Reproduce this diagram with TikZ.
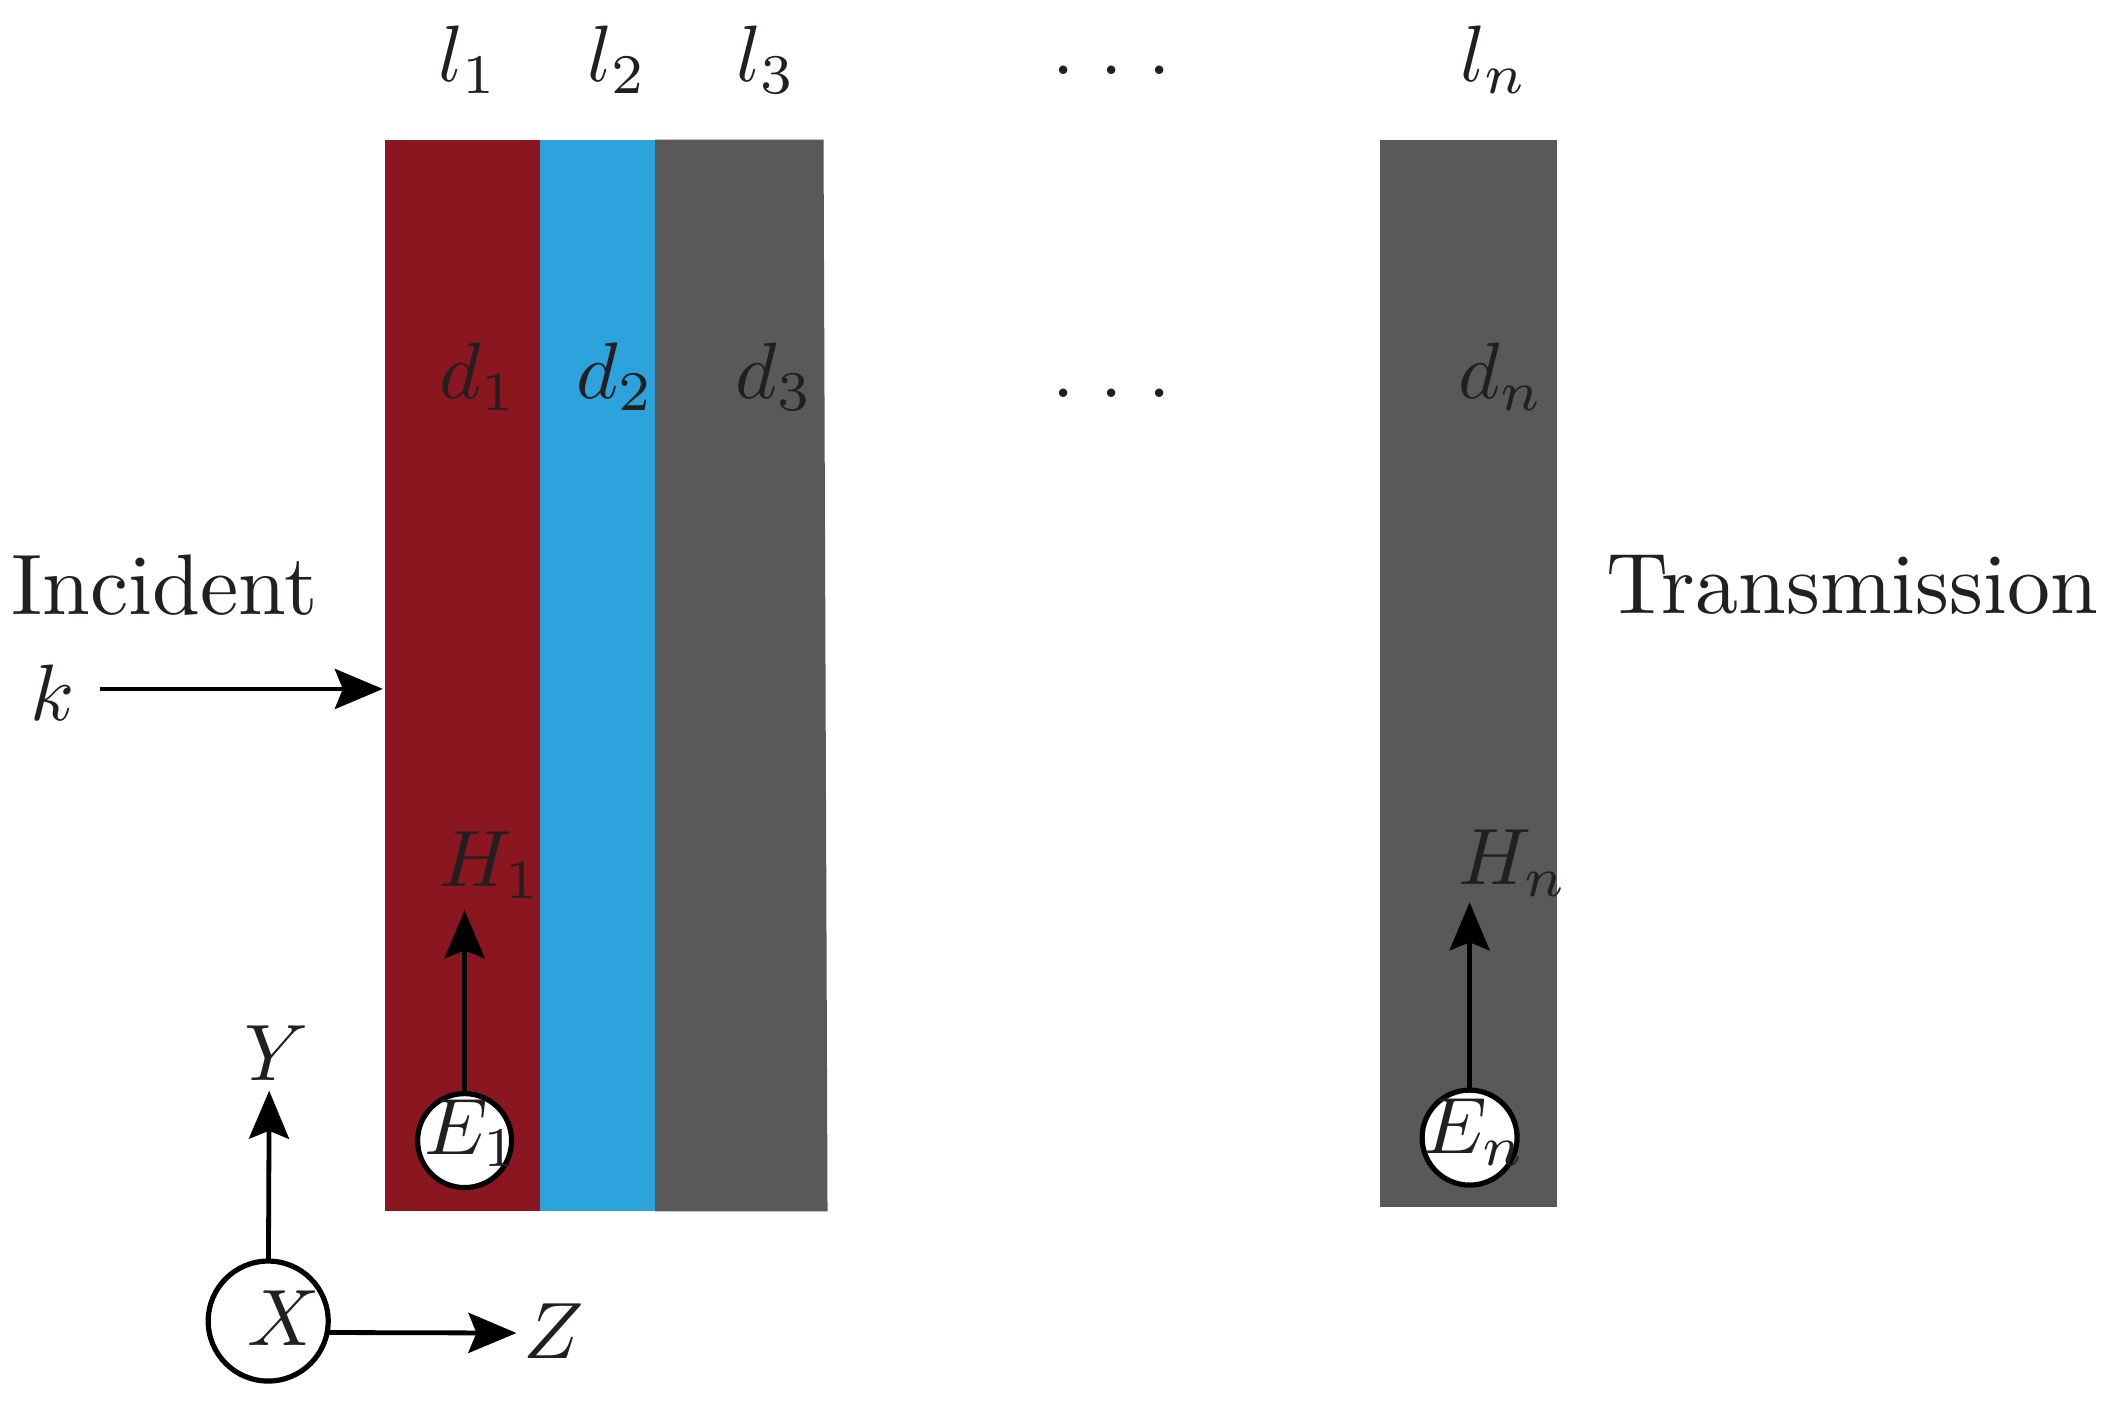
\documentclass[tikz,border=0pt]{standalone}
\usetikzlibrary{arrows.meta}
\definecolor{ink}{HTML}{231F20}
\definecolor{layred}{HTML}{8A1620}
\definecolor{layblue}{HTML}{2CA3DC}
\definecolor{laygray}{HTML}{595959}
\tikzset{
  lab/.style={text=ink,inner sep=0pt,scale=4},
  txt/.style={text=ink,inner sep=0pt,scale=4.3},
  ring/.style={circle,draw=black,fill=white,line width=2.6pt,minimum size=#1,inner sep=0pt,outer sep=0pt},
  arr/.style={-{Stealth[length=24pt,width=20pt,inset=4pt]},line width=2.4pt,black},
}
\newcommand{\spreaddots}{$.\mkern5.8mu.\mkern5.8mu.$}
\begin{document}
\begin{tikzpicture}[x=0.4985pt,y=-0.4985pt]
\useasboundingbox (0,0) rectangle (2115.3,1409.4);
\fill[layred] (386,140) rectangle (542,1215);
\fill[layblue] (542,140) rectangle (657,1215);
\fill[laygray] (657,140) -- (826,140) -- (830,1215) -- (657,1215) -- cycle;
\fill[laygray] (1384,140) rectangle (1562,1211);
% circles
\node[ring=47pt] (E1c) at (466,1144) {};
\node[ring=47.5pt] (Enc) at (1474,1141) {};
\node[ring=60pt] (Xc) at (269,1325) {};
% free arrow ends
\coordinate (H1tip) at (466,913);
\coordinate (Hntip) at (1474,905);
\coordinate (Ytip) at (270,1094);
\coordinate (Ztip) at (518,1337);
\coordinate (ktip) at (384,691);
% arrows
\draw[arr] (E1c) -- (H1tip);
\draw[arr] (Enc) -- (Hntip);
\draw[arr] (Xc) -- (Ytip);
\draw[arr] (Xc.-11) -- (Ztip);
% labels
\node[lab] (l1) at (470,60) {$l_1$};
\node[lab] (l2) at (619,60) {$l_2$};
\node[lab] (l3) at (769,60) {$l_3$};
\node[lab] (dotsa) at (1115,70) {\spreaddots};
\node[lab] (ln) at (1499,60) {$l_n$};
\node[lab] (d1) at (480,378) {$d_1$};
\node[lab] (d2) at (617,378) {$d_2$};
\node[lab] (d3) at (777,378) {$d_3$};
\node[lab] (dotsb) at (1115,394) {\spreaddots};
\node[lab] (dn) at (1506,378) {$d_n$};
\node[txt] (inc) at (165,587) {Incident};
\node[txt] (tra) at (1858,587) {Transmission};
\node[lab] (k) at (53,695) {$k$};
\coordinate (kstart) at (100,691);
\draw[arr] (kstart) -- (ktip);
\node[lab] (H1) at (492,868) {$H_1$};
\node[lab] (Hn) at (1518,866) {$H_n$};
\node[lab] (E1) at (473,1137) {$E_1$};
\node[lab] (En) at (1479,1136) {$E_n$};
\node[lab] (X) at (285,1322) {$X$};
\node[lab] (Y) at (277,1056) {$Y$};
\node[lab] (Z) at (555,1335) {$Z$};
\end{tikzpicture}
\end{document}
